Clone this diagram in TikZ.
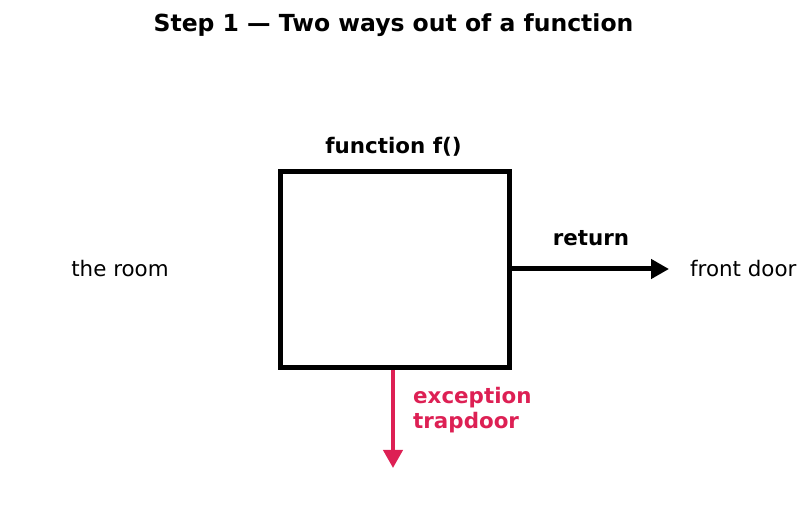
\documentclass[tikz,border=0pt]{standalone}
\usepackage{fontspec}
\setmainfont{DejaVu Sans}
\usetikzlibrary{arrows.meta}
\definecolor{trapred}{RGB}{221,32,84}
\tikzset{
  lbl/.style={font=\fontsize{21.4}{25}\selectfont},
  boldlbl/.style={font=\fontsize{21.4}{25}\selectfont\bfseries},
  exit/.style={line width=5pt,-{Triangle[length=18pt,width=19pt]}}
}
\begin{document}
\begin{tikzpicture}[x=1pt,y=-1pt]
\useasboundingbox (0,0) rectangle (809,510);
\begin{scope}
    \path (393.5,25) node (title) [font=\fontsize{23.5}{28}\selectfont\bfseries] {Step 1 — Two ways out of a function};
    \path (394.5,270) node (func) [draw,line width=5pt,minimum width=229pt,minimum height=196pt] {};
    \path (393.5,147) node (fname) [boldlbl] {function f()};
    \path (120,269) node (room) [lbl] {the room};
    \coordinate (doorend) at (669,269);
    \path (690,269) node (door) [lbl,anchor=west,inner sep=0pt] {front door};
    \path (591,238) node (ret) [boldlbl] {return};
    \coordinate (trapend) at (393,468);
    \path (413,410) node (exc) [boldlbl,text=trapred,anchor=west,align=left,inner sep=0pt] {exception\\trapdoor};
    \draw [exit] (func.east |- doorend) -- (doorend);
    \draw [exit,trapred,line width=4pt] (trapend |- func.south) -- (trapend);
\end{scope}
\end{tikzpicture}
\end{document}
